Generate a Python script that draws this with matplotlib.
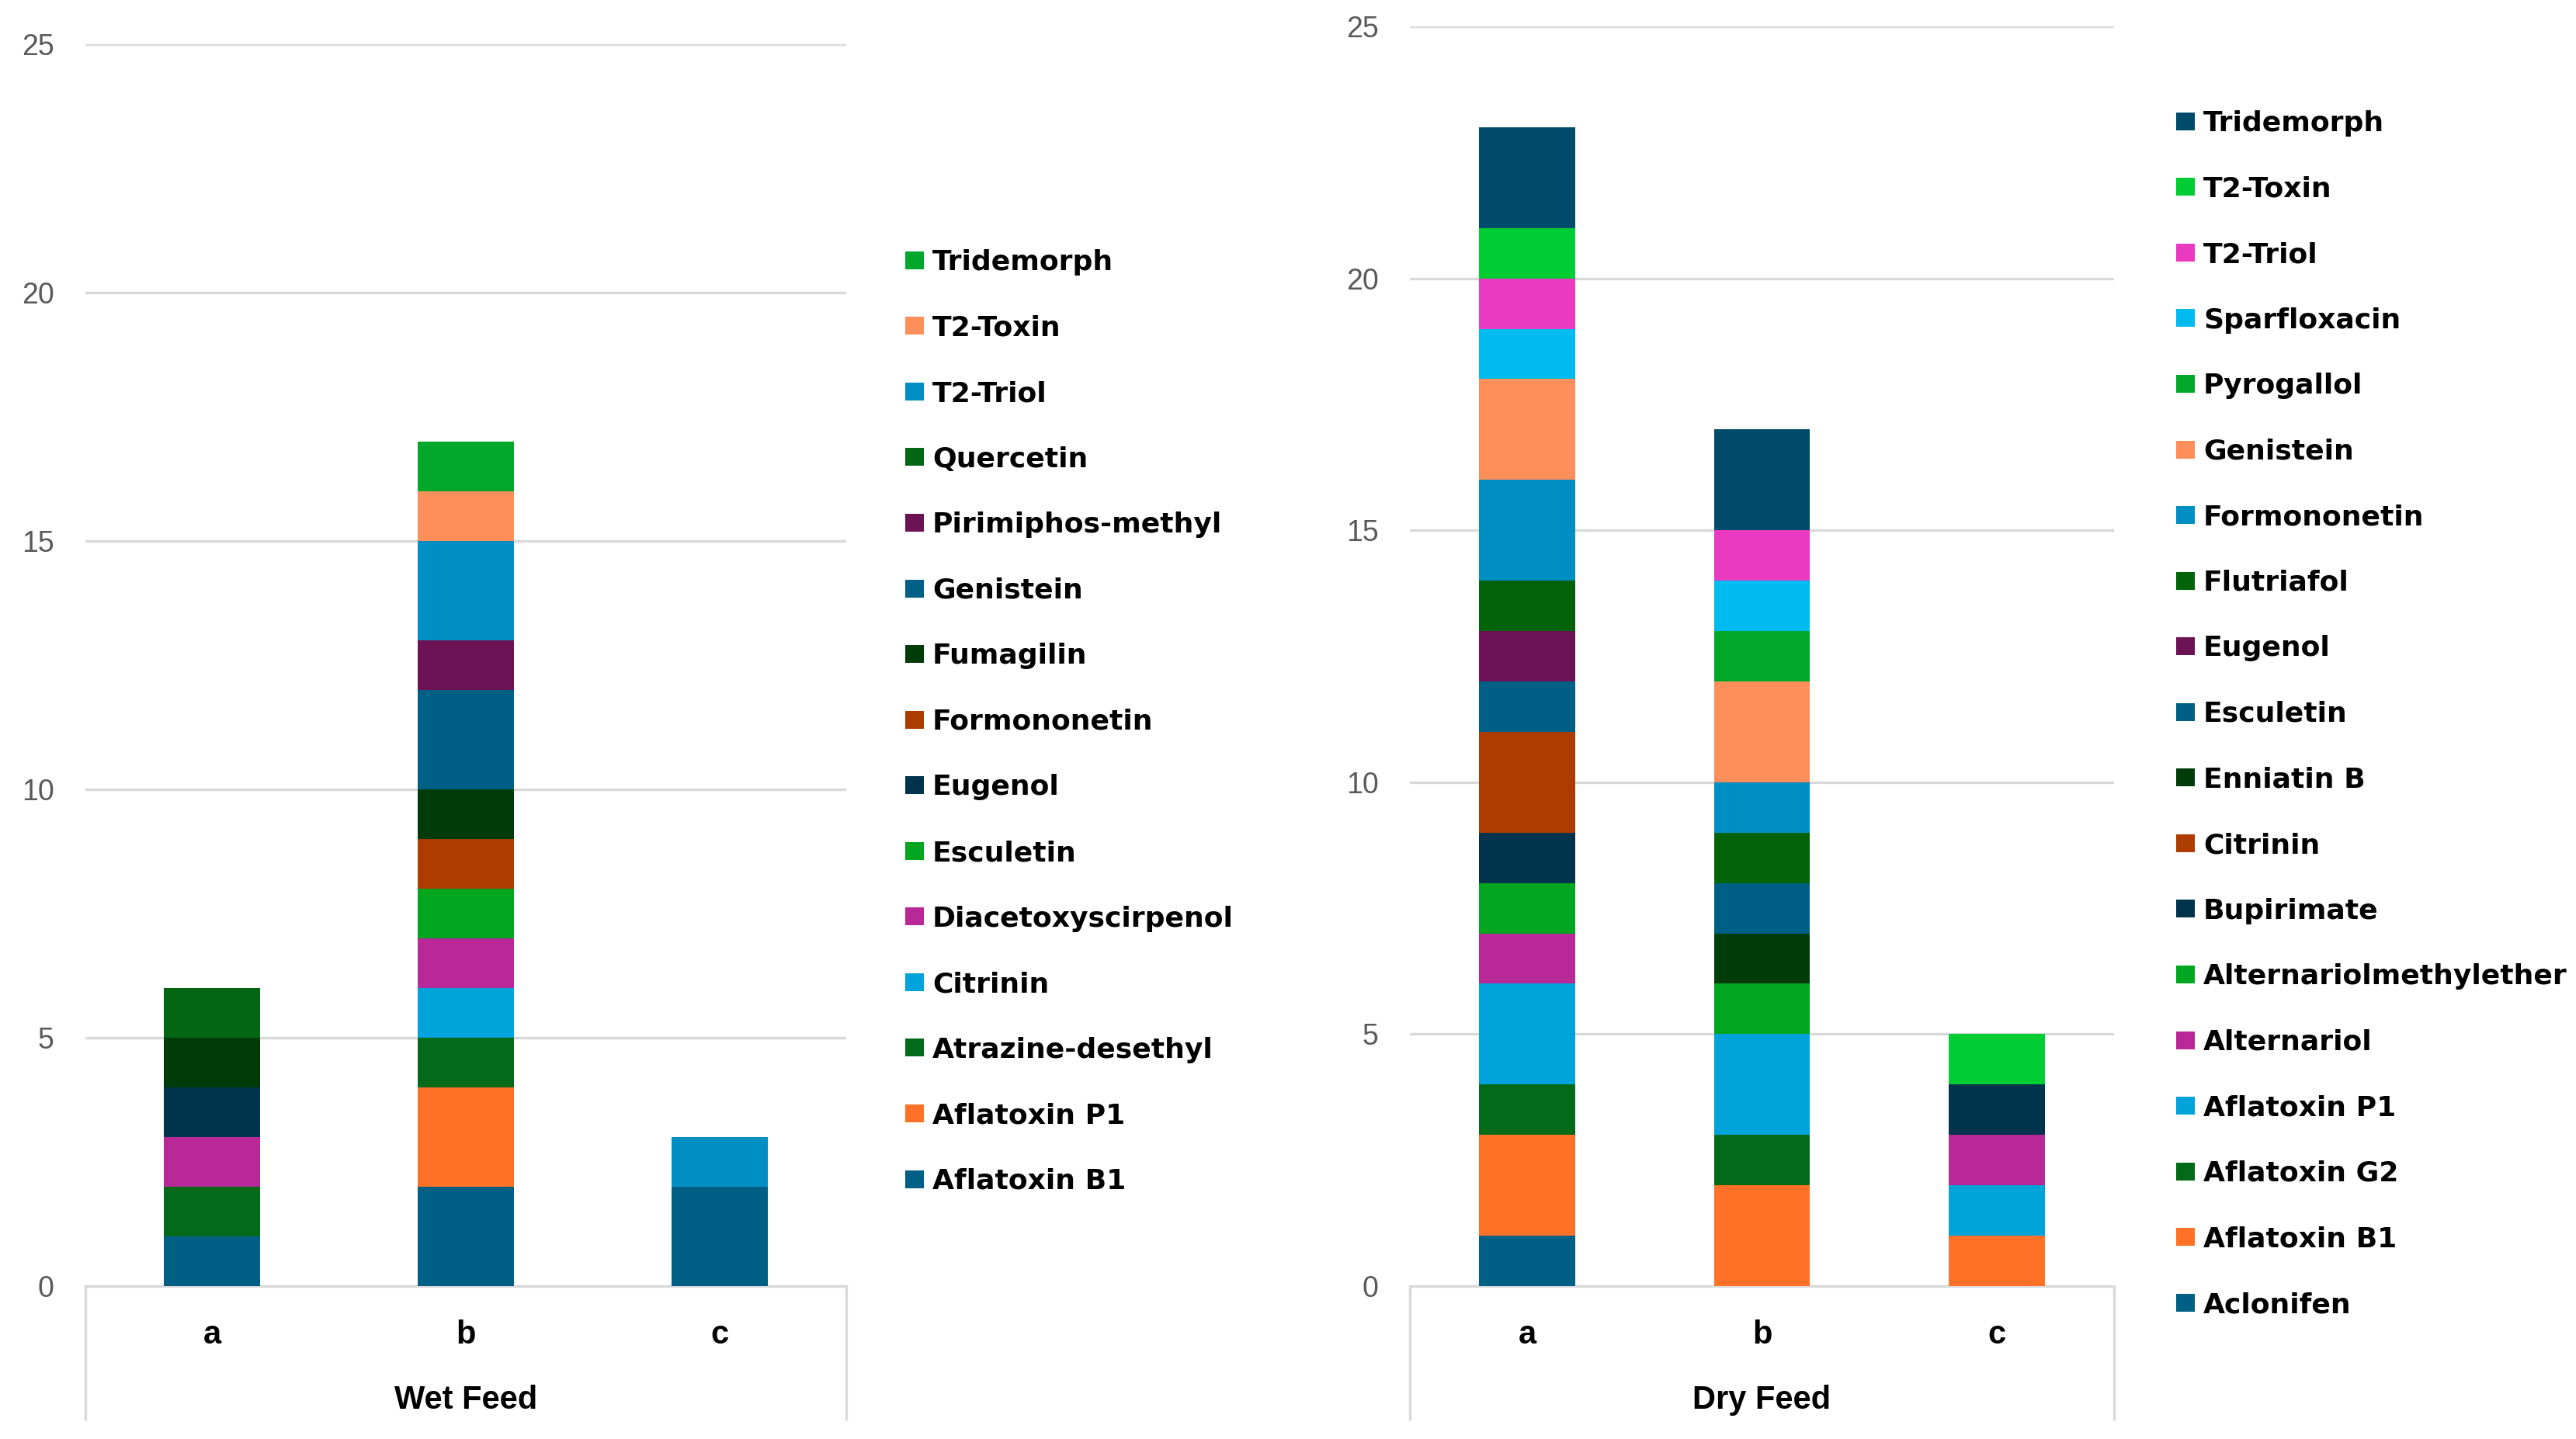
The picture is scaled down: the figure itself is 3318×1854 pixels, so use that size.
import matplotlib
matplotlib.use("Agg")
import matplotlib.pyplot as plt
import numpy as np
from matplotlib.patches import Patch

# ---------------- data ----------------
categories = ["a", "b", "c"]

wet_series = ["Aflatoxin B1", "Aflatoxin P1", "Atrazine-desethyl", "Citrinin",
              "Diacetoxyscirpenol", "Esculetin", "Eugenol", "Formononetin",
              "Fumagilin", "Genistein", "Pirimiphos-methyl", "Quercetin",
              "T2-Triol", "T2-Toxin", "Tridemorph"]
wet_aflatoxin_b1 = [1, 2, 2]
wet_aflatoxin_p1 = [0, 2, 0]
wet_atrazine_desethyl = [1, 1, 0]
wet_citrinin = [0, 1, 0]
wet_diacetoxyscirpenol = [1, 1, 0]
wet_esculetin = [0, 1, 0]
wet_eugenol = [1, 0, 0]
wet_formononetin = [0, 1, 0]
wet_fumagilin = [1, 1, 0]
wet_genistein = [0, 2, 0]
wet_pirimiphos_methyl = [0, 1, 0]
wet_quercetin = [1, 0, 0]
wet_t2_triol = [0, 2, 1]
wet_t2_toxin = [0, 1, 0]
wet_tridemorph = [0, 1, 0]
wet_values = [wet_aflatoxin_b1, wet_aflatoxin_p1, wet_atrazine_desethyl, wet_citrinin,
              wet_diacetoxyscirpenol, wet_esculetin, wet_eugenol, wet_formononetin,
              wet_fumagilin, wet_genistein, wet_pirimiphos_methyl, wet_quercetin,
              wet_t2_triol, wet_t2_toxin, wet_tridemorph]
wet_colors = ["#005f84", "#ff7126", "#036a1a", "#00a3da", "#b82896", "#00a61f",
              "#00344d", "#ad3c00", "#003c0a", "#005f84", "#6c1355", "#036612",
              "#008fc3", "#ff8f5a", "#00a72b"]

dry_series = ["Aclonifen", "Aflatoxin B1", "Aflatoxin G2", "Aflatoxin P1", "Alternariol",
              "Alternariolmethylether", "Bupirimate", "Citrinin", "Enniatin B",
              "Esculetin", "Eugenol", "Flutriafol", "Formononetin", "Genistein",
              "Pyrogallol", "Sparfloxacin", "T2-Triol", "T2-Toxin", "Tridemorph"]
dry_aclonifen = [1, 0, 0]
dry_aflatoxin_b1 = [2, 2, 1]
dry_aflatoxin_g2 = [1, 1, 0]
dry_aflatoxin_p1 = [2, 2, 1]
dry_alternariol = [1, 0, 1]
dry_alternariolmethylether = [1, 1, 0]
dry_bupirimate = [1, 0, 1]
dry_citrinin = [2, 0, 0]
dry_enniatin_b = [0, 1, 0]
dry_esculetin = [1, 1, 0]
dry_eugenol = [1, 0, 0]
dry_flutriafol = [1, 1, 0]
dry_formononetin = [2, 1, 0]
dry_genistein = [2, 2, 0]
dry_pyrogallol = [0, 1, 0]
dry_sparfloxacin = [1, 1, 0]
dry_t2_triol = [1, 1, 0]
dry_t2_toxin = [1, 0, 1]
dry_tridemorph = [2, 2, 0]
dry_values = [dry_aclonifen, dry_aflatoxin_b1, dry_aflatoxin_g2, dry_aflatoxin_p1,
              dry_alternariol, dry_alternariolmethylether, dry_bupirimate, dry_citrinin,
              dry_enniatin_b, dry_esculetin, dry_eugenol, dry_flutriafol,
              dry_formononetin, dry_genistein, dry_pyrogallol, dry_sparfloxacin,
              dry_t2_triol, dry_t2_toxin, dry_tridemorph]
dry_colors = ["#005f84", "#ff7126", "#036a1a", "#00a3da", "#b82896", "#00a61f",
              "#00344d", "#ad3c00", "#003c0a", "#005f84", "#6c1355", "#026309",
              "#008fc3", "#ff8f5a", "#00a72b", "#00bbf0", "#ea3abf", "#00cc33",
              "#004b6b"]

y_ticks = [0, 5, 10, 15, 20, 25]
group_labels = ["Wet Feed", "Dry Feed"]

# ---------------- figure ----------------
W, H = 3318, 1854
fig = plt.figure(figsize=(W / 100, H / 100), dpi=100)
fig.patch.set_facecolor("white")

GRID = "#d9d9d9"
TICKFONT = ["Liberation Sans Narrow", "Liberation Sans", "DejaVu Sans"]


def make_axes(x0, x1, ytop, y0):
    return fig.add_axes([x0 / W, (H - y0) / H, (x1 - x0) / W, (y0 - ytop) / H])


def draw_panel(ax, series, values, colors, width, group, y0_px, box_bottom_px,
               leg_x_px, leg_top_px):
    x = np.arange(len(categories))
    bottom = np.zeros(len(categories))
    for name, vals, col in zip(series, values, colors):
        v = np.array(vals, dtype=float)
        ax.bar(x, v, width=width, bottom=bottom, color=col, label=name,
               linewidth=0, zorder=3)
        bottom += v
    ax.set_xlim(-0.5, len(categories) - 0.5)
    ax.set_ylim(0, 25)
    ax.set_yticks(y_ticks)
    ax.set_yticklabels([str(t) for t in y_ticks], family=TICKFONT,
                       fontsize=27, color="#595959")
    ax.yaxis.grid(True, color=GRID, linewidth=2.4, zorder=0)
    ax.set_axisbelow(True)
    ax.tick_params(axis="y", length=0, pad=29)
    ax.set_xticks(x)
    ax.set_xticklabels(categories, family=["Liberation Sans", "DejaVu Sans"],
                       fontsize=30, fontweight="bold", color="black")
    ax.tick_params(axis="x", length=0, pad=31)
    for s in ["top", "right", "left"]:
        ax.spines[s].set_visible(False)
    ax.spines["bottom"].set_color(GRID)
    ax.spines["bottom"].set_linewidth(2.4)
    # category box lines below the axis (Excel multi-level axis)
    ax_h = ax.get_position().height * H
    frac = (box_bottom_px - y0_px) / ax_h
    for xx in (0, 1):
        ax.plot([xx, xx], [0, -frac], transform=ax.transAxes, color=GRID,
                linewidth=2.4, clip_on=False, solid_capstyle="butt")
    # group label
    ax.text(0.5, -(1815 - y0_px) / ax_h, group, transform=ax.transAxes,
            ha="center", va="baseline", family=["Liberation Sans", "DejaVu Sans"],
            fontsize=30, fontweight="bold", color="black")
    # legend (reverse order, like the original)
    handles = [Patch(facecolor=c, edgecolor="none") for c in colors][::-1]
    labels = list(series)[::-1]
    fig.legend(handles, labels, loc="upper left",
               bbox_to_anchor=(leg_x_px / W, 1 - leg_top_px / H),
               frameon=False, borderpad=0, borderaxespad=0,
               handlelength=0.67, handleheight=0.6, handletextpad=0.3,
               labelspacing=1.40,
               prop={"family": "DejaVu Sans", "weight": "bold", "size": 26})


ax1 = make_axes(110, 1090, 57, 1657)
draw_panel(ax1, wet_series, wet_values, wet_colors, 0.38, group_labels[0],
           1657, 1830, 1166, 321)

ax2 = make_axes(1816, 2723, 34, 1657)
draw_panel(ax2, dry_series, dry_values, dry_colors, 0.41, group_labels[1],
           1657, 1830, 2803, 142)

fig.savefig("out.png", dpi=100, facecolor="white")
